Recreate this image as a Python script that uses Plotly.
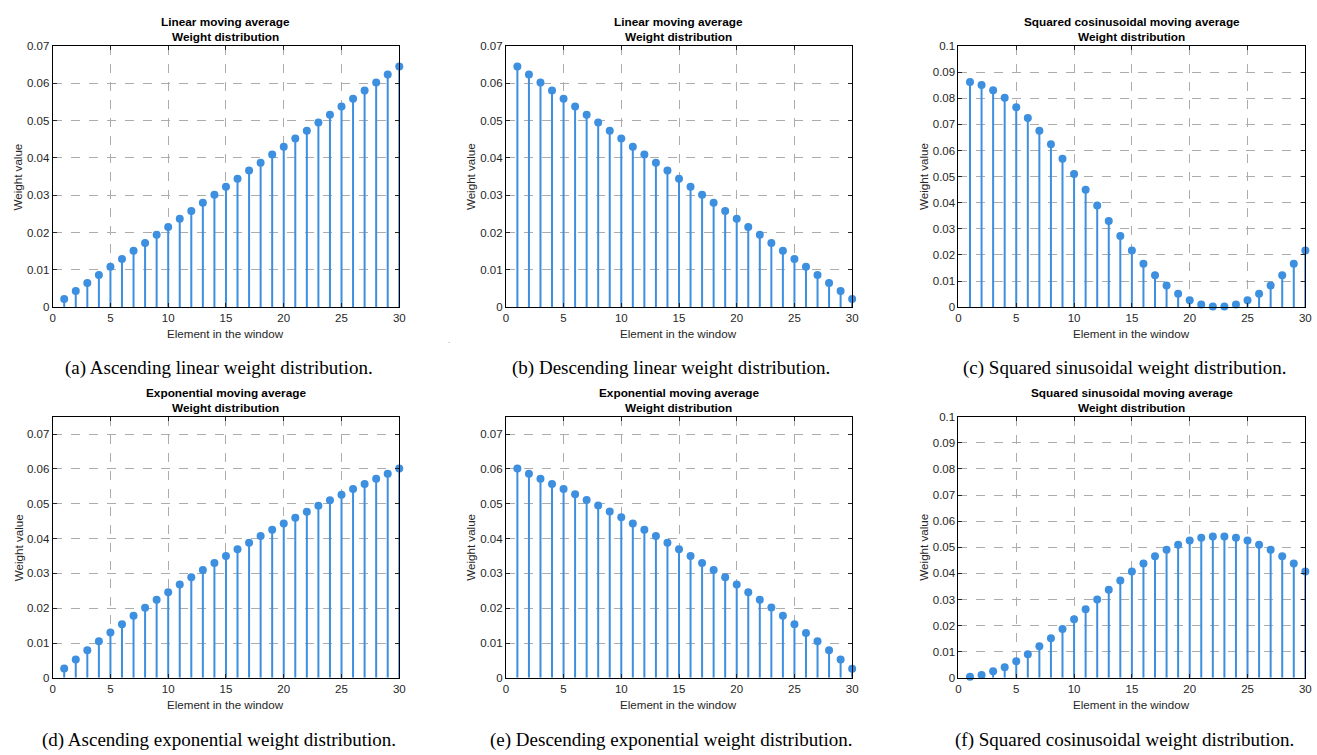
import plotly.graph_objects as go

elements = list(range(1, 31))

lin_asc = [0.0022, 0.0043, 0.0065, 0.0086, 0.0108, 0.0129, 0.0151, 0.0172, 0.0194, 0.0215,
           0.0237, 0.0258, 0.0280, 0.0301, 0.0323, 0.0344, 0.0366, 0.0387, 0.0409, 0.0430,
           0.0452, 0.0473, 0.0495, 0.0516, 0.0538, 0.0559, 0.0581, 0.0602, 0.0624, 0.0645]
lin_desc = [0.0645, 0.0624, 0.0602, 0.0581, 0.0559, 0.0538, 0.0516, 0.0495, 0.0473, 0.0452,
            0.0430, 0.0409, 0.0387, 0.0366, 0.0344, 0.0323, 0.0301, 0.0280, 0.0258, 0.0237,
            0.0215, 0.0194, 0.0172, 0.0151, 0.0129, 0.0108, 0.0086, 0.0065, 0.0043, 0.0022]
sq_cos = [0.0862, 0.0851, 0.0831, 0.0802, 0.0766, 0.0724, 0.0676, 0.0624, 0.0568, 0.0510,
          0.0450, 0.0389, 0.0330, 0.0272, 0.0217, 0.0166, 0.0122, 0.0083, 0.0051, 0.0026,
          0.0010, 0.0002, 0.0002, 0.0010, 0.0026, 0.0051, 0.0083, 0.0122, 0.0166, 0.0217]
exp_asc = [0.0027, 0.0053, 0.0079, 0.0105, 0.0130, 0.0154, 0.0178, 0.0201, 0.0224, 0.0246,
           0.0268, 0.0289, 0.0310, 0.0330, 0.0350, 0.0369, 0.0388, 0.0407, 0.0425, 0.0443,
           0.0460, 0.0477, 0.0494, 0.0510, 0.0526, 0.0542, 0.0557, 0.0572, 0.0586, 0.0601]
exp_desc = [0.0601, 0.0586, 0.0572, 0.0557, 0.0542, 0.0527, 0.0511, 0.0495, 0.0478, 0.0461,
            0.0443, 0.0425, 0.0407, 0.0388, 0.0369, 0.0350, 0.0330, 0.0310, 0.0289, 0.0268,
            0.0246, 0.0224, 0.0202, 0.0178, 0.0154, 0.0129, 0.0105, 0.0079, 0.0053, 0.0026]
sq_sin = [0.0004, 0.0011, 0.0025, 0.0041, 0.0064, 0.0090, 0.0121, 0.0152, 0.0187, 0.0224,
          0.0263, 0.0300, 0.0337, 0.0373, 0.0407, 0.0438, 0.0466, 0.0490, 0.0510, 0.0526,
          0.0536, 0.0541, 0.0541, 0.0536, 0.0526, 0.0510, 0.0490, 0.0466, 0.0438, 0.0407]

x_ticks = [0, 5, 10, 15, 20, 25, 30]
y_ticks_07 = [0, 0.01, 0.02, 0.03, 0.04, 0.05, 0.06, 0.07]
y_labels_07 = ["0", "0.01", "0.02", "0.03", "0.04", "0.05", "0.06", "0.07"]
y_ticks_10 = [0, 0.01, 0.02, 0.03, 0.04, 0.05, 0.06, 0.07, 0.08, 0.09, 0.1]
y_labels_10 = ["0", "0.01", "0.02", "0.03", "0.04", "0.05", "0.06", "0.07", "0.08", "0.09", "0.1"]

titles = ["Linear moving average", "Linear moving average", "Squared cosinusoidal moving average",
          "Exponential moving average", "Exponential moving average", "Squared sinusoidal moving average"]
subtitle = "Weight distribution"
captions = ["(a) Ascending linear weight distribution.",
            "(b) Descending linear weight distribution.",
            "(c) Squared sinusoidal weight distribution.",
            "(d) Ascending exponential weight distribution.",
            "(e) Descending exponential weight distribution.",
            "(f) Squared cosinusoidal weight distribution."]
x_label = "Element in the window"
y_label = "Weight value"

series = [lin_asc, lin_desc, sq_cos, exp_asc, exp_desc, sq_sin]
y_ranges = [[0, 0.07], [0, 0.07], [0, 0.1], [0, 0.075], [0, 0.075], [0, 0.1]]
y_tickvals = [y_ticks_07, y_ticks_07, y_ticks_10, y_ticks_07, y_ticks_07, y_ticks_10]
y_ticktext = [y_labels_07, y_labels_07, y_labels_10, y_labels_07, y_labels_07, y_labels_10]

W, H = 1317, 755
# pixel layout of the plot boxes
cols_px = [(50, 399), (506.3, 855), (962, 1311.3)]
rows_px = [(40.7, 306), (417.3, 682.7)]
title_y_px = [(16, 32), (393, 409)]
xlabel_y_px = [333, 710]
caption_y_px = [368, 746]
caption_x_px = [217, 673, 1129]
ylabel_x_px = [15, 470.7, 926.7]

COLOR = "#3d8fdf"
TXT = "#262626"
SANS = "Liberation Sans, Arial, sans-serif"
SERIF = "Liberation Serif, Times New Roman, serif"

fig = go.Figure()
annotations = []
for k in range(6):
    r, c = divmod(k, 3)
    ax = "" if k == 0 else str(k + 1)
    x0, x1 = cols_px[c]
    y0, y1 = rows_px[r]
    vals = series[k]
    fig.add_trace(go.Scatter(
        x=elements, y=vals, mode="markers",
        marker=dict(size=8, color=COLOR),
        error_y=dict(type="data", symmetric=False, array=[0] * len(vals), arrayminus=vals,
                     width=0, thickness=2, color=COLOR),
        xaxis="x" + ax, yaxis="y" + ax, showlegend=False, cliponaxis=False,
        hoverinfo="x+y"))
    axis_common = dict(showline=True, linecolor="black", linewidth=1, mirror="ticks",
                       ticks="inside", ticklen=4, tickcolor="#262626",
                       showgrid=True, gridcolor="#acacac", griddash="dash", gridwidth=1,
                       zeroline=False, tickfont=dict(family=SANS, size=11.5, color=TXT))
    fig.update_layout(**{
        "xaxis" + ax: dict(domain=[x0 / W, x1 / W], range=[0, 30], tickvals=x_ticks,
                           anchor="y" + ax, **axis_common),
        "yaxis" + ax: dict(domain=[1 - y1 / H, 1 - y0 / H], range=y_ranges[k],
                           tickvals=y_tickvals[k], ticktext=y_ticktext[k],
                           anchor="x" + ax, **axis_common),
    })
    cx = (x0 + x1) / 2 / W
    annotations.append(dict(text="<b>" + titles[k] + "</b>", x=cx, y=1 - title_y_px[r][0] / H,
                            xref="paper", yref="paper", showarrow=False, xanchor="center",
                            yanchor="middle", font=dict(family=SANS, size=11.8, color="black")))
    annotations.append(dict(text="<b>" + subtitle + "</b>", x=cx, y=1 - title_y_px[r][1] / H,
                            xref="paper", yref="paper", showarrow=False, xanchor="center",
                            yanchor="middle", font=dict(family=SANS, size=11.8, color="black")))
    annotations.append(dict(text=x_label, x=cx, y=1 - xlabel_y_px[r] / H,
                            xref="paper", yref="paper", showarrow=False, xanchor="center",
                            yanchor="middle", font=dict(family=SANS, size=11.6, color=TXT)))
    annotations.append(dict(text=y_label, x=ylabel_x_px[c] / W, y=1 - (y0 + y1) / 2 / H,
                            xref="paper", yref="paper", showarrow=False, xanchor="center",
                            yanchor="middle", textangle=-90,
                            font=dict(family=SANS, size=11.6, color=TXT)))
    annotations.append(dict(text=captions[k], x=caption_x_px[c] / W, y=1 - caption_y_px[r] / H,
                            xref="paper", yref="paper", showarrow=False, xanchor="center",
                            yanchor="middle", font=dict(family=SERIF, size=19, color="black")))

annotations.append(dict(text=".", x=449 / W, y=1 - 340 / H, xref="paper", yref="paper",
                        showarrow=False, xanchor="center", yanchor="middle",
                        font=dict(family=SANS, size=8, color="#777777")))

fig.update_layout(width=W, height=H, margin=dict(l=0, r=0, t=0, b=0),
                  paper_bgcolor="white", plot_bgcolor="white",
                  annotations=annotations, showlegend=False)

fig.write_html("out.html")
